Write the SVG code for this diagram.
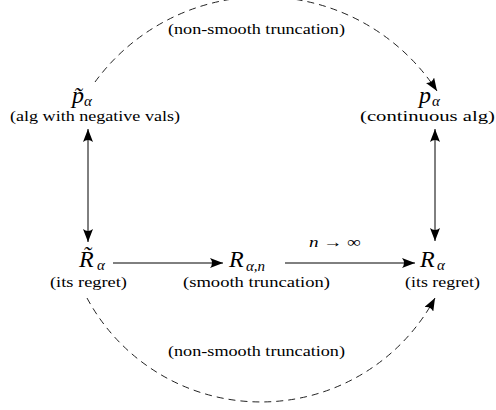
<svg xmlns="http://www.w3.org/2000/svg" width="496" height="410" viewBox="0 0 496 410">
<style>
text{fill:#000;font-family:"Liberation Serif","DejaVu Serif",serif}
.m{font-style:italic;font-size:24px}
.s{font-style:italic;font-size:15px}
.c{font-size:14px}
.solid{stroke:#000;stroke-width:1;fill:none}
.dash{stroke:#222;stroke-width:1;fill:none;stroke-dasharray:7 5}
</style>
<defs>
<marker id="ah" viewBox="0 0 13 10" refX="13" refY="5" markerWidth="13" markerHeight="10" markerUnits="userSpaceOnUse" orient="auto-start-reverse">
<path d="M0,0 Q4,5 0,10 L13,5 Z" fill="#000"/>
</marker>
</defs>
<g id="connectors">
<line class="solid" x1="88" y1="129" x2="88" y2="242" marker-start="url(#ah)" marker-end="url(#ah)"/>
<line class="solid" x1="435" y1="129" x2="435" y2="241" marker-start="url(#ah)" marker-end="url(#ah)"/>
<line class="solid" x1="113" y1="263" x2="223" y2="263" marker-end="url(#ah)"/>
<line class="solid" x1="285" y1="263" x2="415" y2="263" marker-end="url(#ah)"/>
<path class="dash" d="M95,82 A208,208 0 0 1 437,91" marker-end="url(#ah)"/>
<path class="dash" d="M87,298 A197.6,197.6 0 0 0 435,298" marker-end="url(#ah)"/>
<text font-size="15" x="309" y="247" textLength="52" lengthAdjust="spacingAndGlyphs"><tspan font-style="italic">n</tspan> → ∞</text>
<text class="c" x="168" y="34" textLength="177" lengthAdjust="spacingAndGlyphs">(non-smooth truncation)</text>
<text class="c" x="168" y="356" textLength="177" lengthAdjust="spacingAndGlyphs">(non-smooth truncation)</text>
</g>
<g id="p-tilde">
<text class="m" x="72" y="103" font-size="22">p̃</text>
<text class="s" x="84" y="106" font-size="14">α</text>
<text class="c" x="10" y="121" textLength="170" lengthAdjust="spacingAndGlyphs">(alg with negative vals)</text>
</g>
<g id="p-alpha">
<text class="m" x="419" y="103" font-size="22">p</text>
<text class="s" x="432" y="106" font-size="14">α</text>
<text class="c" x="360" y="121" textLength="135" lengthAdjust="spacingAndGlyphs">(continuous alg)</text>
</g>
<g id="R-tilde">
<text class="m" x="79" y="267" font-size="25">R̃</text>
<text class="s" x="97" y="270">α</text>
<text class="c" x="50" y="287" textLength="77" lengthAdjust="spacingAndGlyphs">(its regret)</text>
</g>
<g id="R-alpha-n">
<text class="m" x="229" y="267" font-size="25">R</text>
<text class="s" x="246" y="271">α,n</text>
<text class="c" x="183" y="287" textLength="147" lengthAdjust="spacingAndGlyphs">(smooth truncation)</text>
</g>
<g id="R-alpha">
<text class="m" x="420" y="267" font-size="25">R</text>
<text class="s" x="437" y="270">α</text>
<text class="c" x="405" y="287" textLength="75" lengthAdjust="spacingAndGlyphs">(its regret)</text>
</g>
</svg>
